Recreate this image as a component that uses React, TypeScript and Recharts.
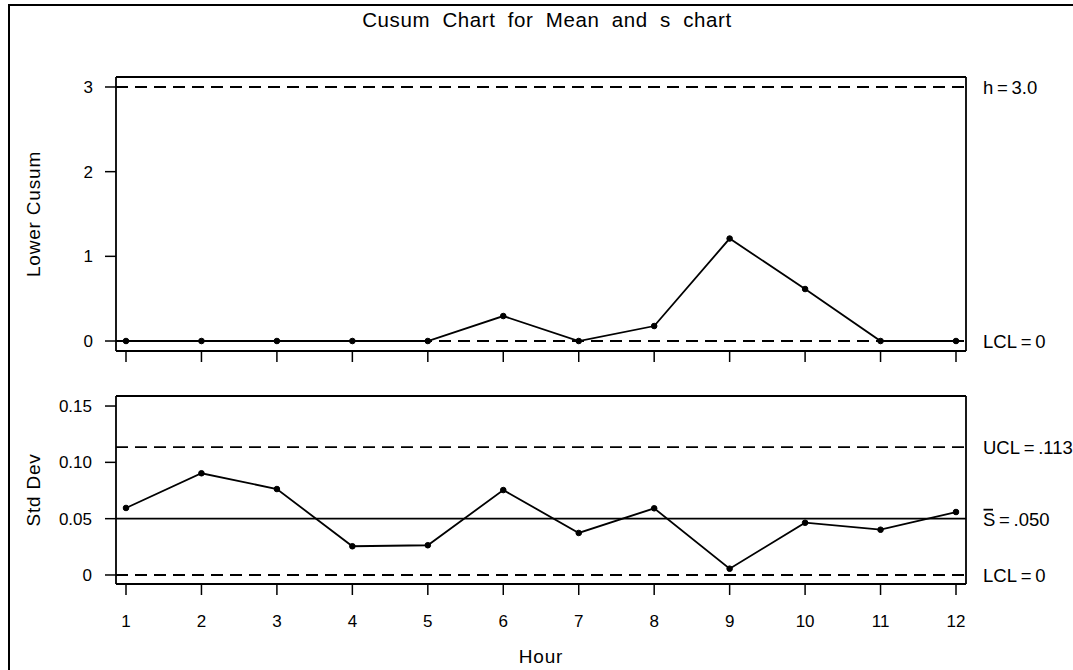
import React from "react";
import {
  LineChart,
  Line,
  XAxis,
  YAxis,
  ReferenceLine,
} from "recharts";

// hours on the x axis
const hours = [1, 2, 3, 4, 5, 6, 7, 8, 9, 10, 11, 12];
// lower cusum per hour
const lowerCusum = [0, 0, 0, 0, 0, 0.295, 0, 0.177, 1.21, 0.614, 0, 0];
// subgroup standard deviation per hour
const stdDev = [
  0.0595, 0.0903, 0.0763, 0.0255, 0.0264, 0.0754, 0.0373, 0.0592, 0.0056,
  0.0464, 0.0402, 0.0559,
];

const cusumTicks = [0, 1, 2, 3];
const sdTicks = [0, 0.05, 0.1, 0.15];

const cusumH = 3;
const cusumLCL = 0;
const sUCL = 0.1135;
const sBar = 0.05;
const sLCL = 0;

const data = hours.map((h, i) => ({
  hour: h,
  cusum: lowerCusum[i],
  sd: stdDev[i],
}));

const FONT = '"Liberation Sans", Arial, Helvetica, sans-serif';
const INK = "#000";
const DASH = "12 7";
const xPad = { left: 10, right: 10 };
const axisLine = { stroke: INK, strokeWidth: 1.8 };
const tickLine = { stroke: INK, strokeWidth: 1.5 };
const tickFont = { fill: INK, fontSize: 17 };
const dotStyle = { r: 2.8, fill: INK, stroke: INK, strokeWidth: 1 };

const limitLabel = (value: string) => ({
  value,
  position: "right" as const,
  offset: 17,
  fill: INK,
  fontSize: 18.5,
});

const axisTitle = (value: string) => ({
  value,
  angle: -90,
  position: "insideLeft" as const,
  offset: -23,
  fill: INK,
  fontSize: 19,
  style: { textAnchor: "middle", letterSpacing: 0.8 },
});

function SBarLabel(props: any) {
  const vb = props.viewBox;
  if (!vb) return null;
  const x = vb.x + vb.width + 17;
  const y = vb.y;
  return (
    <g>
      <text x={x} y={y} dy="0.4em" fill={INK} fontSize={18.5}>
        {"S\u2009=\u2009.050"}
      </text>
      <line x1={x + 0.5} x2={x + 10} y1={y - 9} y2={y - 9} stroke={INK} strokeWidth={1.8} />
    </g>
  );
}

function CusumPanel() {
  const domain: [number, number] = [-0.118, 3.118];
  return (
    <LineChart
      width={1073}
      height={380}
      data={data}
      margin={{ top: 76, right: 106, bottom: 0, left: 56 }}
    >
      <XAxis
        dataKey="hour"
        type="number"
        domain={[1, 12]}
        ticks={hours}
        padding={xPad}
        height={29}
        tickSize={11}
        tickFormatter={() => ""}
        axisLine={axisLine}
        tickLine={tickLine}
      />
      <XAxis
        xAxisId="t"
        orientation="top"
        type="number"
        domain={[1, 12]}
        padding={xPad}
        height={1}
        tick={false}
        tickLine={false}
        axisLine={axisLine}
      />
      <YAxis
        type="number"
        domain={domain}
        ticks={cusumTicks}
        width={60}
        tickSize={11}
        tickMargin={12}
        tick={tickFont}
        axisLine={axisLine}
        tickLine={tickLine}
        allowDataOverflow
        label={axisTitle("Lower  Cusum")}
      />
      <YAxis
        yAxisId="r"
        orientation="right"
        type="number"
        domain={domain}
        width={1}
        tick={false}
        tickLine={false}
        axisLine={axisLine}
      />
      <ReferenceLine y={cusumH} stroke={INK} strokeWidth={1.8} strokeDasharray={DASH} label={limitLabel("h\u2009=\u20093.0")} />
      <ReferenceLine y={cusumLCL} stroke={INK} strokeWidth={1.8} strokeDasharray={DASH} label={limitLabel("LCL\u2009=\u20090")} />
      <Line
        dataKey="cusum"
        type="linear"
        stroke={INK}
        strokeWidth={1.8}
        dot={dotStyle}
        isAnimationActive={false}
      />
    </LineChart>
  );
}

function StdDevPanel() {
  const domain: [number, number] = [-0.008, 0.1589];
  return (
    <LineChart
      width={1073}
      height={290}
      data={data}
      margin={{ top: 15, right: 106, bottom: 0, left: 56 }}
    >
      <XAxis
        dataKey="hour"
        type="number"
        domain={[1, 12]}
        ticks={hours}
        padding={xPad}
        height={86}
        tickSize={11}
        tickMargin={20}
        tick={tickFont}
        axisLine={axisLine}
        tickLine={tickLine}
        label={{
          value: "Hour",
          position: "insideBottom",
          offset: 7,
          fill: INK,
          fontSize: 19,
          style: { letterSpacing: 0.8 },
        }}
      />
      <XAxis
        xAxisId="t"
        orientation="top"
        type="number"
        domain={[1, 12]}
        padding={xPad}
        height={1}
        tick={false}
        tickLine={false}
        axisLine={axisLine}
      />
      <YAxis
        type="number"
        domain={domain}
        ticks={sdTicks}
        tickFormatter={(v: number) => (v === 0 ? "0" : v.toFixed(2))}
        width={60}
        tickSize={11}
        tickMargin={13}
        tick={tickFont}
        axisLine={axisLine}
        tickLine={tickLine}
        allowDataOverflow
        label={axisTitle("Std  Dev")}
      />
      <YAxis
        yAxisId="r"
        orientation="right"
        type="number"
        domain={domain}
        width={1}
        tick={false}
        tickLine={false}
        axisLine={axisLine}
      />
      <ReferenceLine y={sUCL} stroke={INK} strokeWidth={1.8} strokeDasharray={DASH} label={limitLabel("UCL\u2009=\u2009.113")} />
      <ReferenceLine y={sBar} stroke={INK} strokeWidth={1.8} label={<SBarLabel />} />
      <ReferenceLine y={sLCL} stroke={INK} strokeWidth={1.8} strokeDasharray={DASH} label={limitLabel("LCL\u2009=\u20090")} />
      <Line
        dataKey="sd"
        type="linear"
        stroke={INK}
        strokeWidth={1.8}
        dot={dotStyle}
        isAnimationActive={false}
      />
    </LineChart>
  );
}

export default function App() {
  return (
    <div
      style={{
        position: "absolute",
        left: 0,
        top: 0,
        width: 1073,
        height: 670,
        overflow: "hidden",
        background: "#fff",
        fontFamily: FONT,
      }}
    >
      <div
        style={{
          position: "absolute",
          left: 8,
          top: 4,
          width: 2000,
          height: 2000,
          borderLeft: "2px solid #000",
          borderTop: "2px solid #000",
        }}
      />
      <div
        style={{
          position: "absolute",
          left: 0,
          top: 8,
          width: 1094,
          textAlign: "center",
          fontSize: 20.5,
          lineHeight: "24px",
          letterSpacing: 0.6,
          wordSpacing: 6,
          color: INK,
        }}
      >
        Cusum Chart for Mean and s chart
      </div>
      <div style={{ position: "absolute", left: 0, top: 0 }}>
        <CusumPanel />
      </div>
      <div style={{ position: "absolute", left: 0, top: 380 }}>
        <StdDevPanel />
      </div>
    </div>
  );
}
